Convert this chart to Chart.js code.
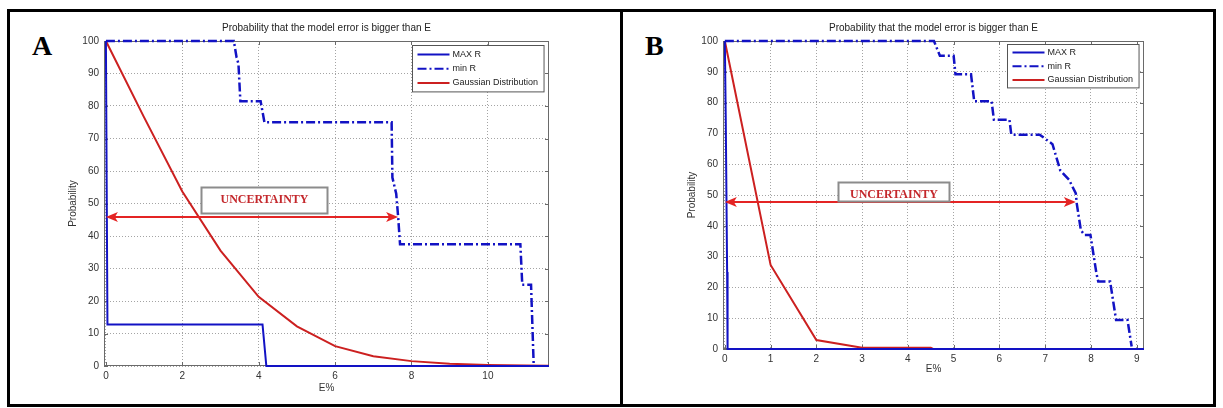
<!DOCTYPE html>
<html>
<head>
<meta charset="utf-8">
<title>Probability that the model error is bigger than E</title>
<script src="https://cdn.jsdelivr.net/npm/chart.js@4.4.1/dist/chart.umd.min.js"></script>
<style>
  body { margin: 0; background: #fff; }
  #frame { position: absolute; left: 7px; top: 9px; width: 1209px; height: 398px; box-sizing: border-box; border: 3px solid #000; }
  #divider { position: absolute; left: 620px; top: 9px; width: 3px; height: 398px; background: #000; }
  .letter { position: absolute; top: 32px; font: bold 28px/28px "Liberation Serif", "Times New Roman", serif; color: #000; }
  canvas { position: absolute; }
</style>
</head>
<body>
<div id="frame"></div>
<div id="divider"></div>
<div class="letter" style="left:32px">A</div>
<div class="letter" style="left:645px">B</div>
<canvas id="chartA" width="600" height="392" style="left:12px; top:12px; width:600px; height:392px"></canvas>
<canvas id="chartB" width="586" height="392" style="left:626px; top:12px; width:586px; height:392px"></canvas>

<script>
// ---- data ----
const seriesNames = ['MAX R', 'min R', 'Gaussian Distribution'];

// panel A  (E%, probability)
const maxRA = [[0, 100], [0.04, 12.8], [4.1, 12.8], [4.2, 0], [11.6, 0]];
const minRA = [[0, 100], [3.35, 100], [3.42, 95], [3.47, 93], [3.52, 81.5], [4.05, 81.5], [4.15, 75],
               [7.48, 75], [7.5, 58], [7.6, 53], [7.65, 46], [7.7, 37.5], [10.85, 37.5], [10.9, 25],
               [11.13, 25], [11.2, 0]];
const gaussA = [[0, 100], [1, 76.5], [2, 53.7], [3, 35.5], [4, 21.3], [5, 12.2], [6, 6.1], [7, 3],
                [8, 1.5], [9, 0.7], [10, 0.3], [11, 0.15], [11.6, 0.1]];
const xTicksA = [0, 2, 4, 6, 8, 10];
const arrowSpanA = [0, 7.65];
const arrowLevelA = 46;

// panel B
const maxRB = [[0, 100], [0.02, 75], [0.05, 25], [0.06, 0], [9.16, 0]];
const minRB = [[0, 100], [4.57, 100], [4.7, 95.2], [5.0, 95.2], [5.04, 89.2], [5.38, 89.2], [5.45, 80.4],
               [5.83, 80.4], [5.88, 74.4], [6.22, 74.4], [6.26, 69.6], [6.88, 69.6], [7.16, 66.5],
               [7.33, 58], [7.52, 55], [7.67, 50.5], [7.69, 47.3], [7.78, 38.6], [7.86, 37], [7.99, 37],
               [8.12, 24.6], [8.16, 21.9], [8.42, 21.9], [8.55, 9.4], [8.8, 9.4], [8.89, 0.8]];
const gaussB = [[0, 100], [1, 27.3], [2, 2.9], [3, 0.4], [4.5, 0.4], [4.55, 0], [9.16, 0]];
const xTicksB = [0, 1, 2, 3, 4, 5, 6, 7, 8, 9];
const arrowSpanB = [0, 7.67];
const arrowLevelB = 47.7;

const yTicks = [0, 10, 20, 30, 40, 50, 60, 70, 80, 90, 100];

// ---- styles ----
const BLUE = '#1212c4';
const RED = '#cc2020';
const ARROW_RED = '#e42424';
const SANS = 'Arial, "Liberation Sans", Helvetica, sans-serif';
const SERIF = '"Liberation Serif", "Times New Roman", serif';

Chart.defaults.font.family = SANS;
Chart.defaults.font.size = 10;
Chart.defaults.color = '#333';

const toXY = pts => pts.map(p => ({ x: p[0], y: p[1] }));

// MATLAB style box with inward ticks, under the lines
const matlabBox = {
    id: 'matlabBox',
    beforeDatasetsDraw(chart) {
        const { ctx, chartArea: a, scales: { x, y } } = chart;
        ctx.save();
        ctx.strokeStyle = '#6a6a6a';
        ctx.lineWidth = 1;
        ctx.strokeRect(a.left + 0.5, a.top + 0.5, a.width - 1, a.height - 1);
        ctx.beginPath();
        x.ticks.forEach(t => {
            const px = Math.round(x.getPixelForValue(t.value)) + 0.5;
            ctx.moveTo(px, a.bottom); ctx.lineTo(px, a.bottom - 4);
            ctx.moveTo(px, a.top); ctx.lineTo(px, a.top + 4);
        });
        y.ticks.forEach(t => {
            const py = Math.round(y.getPixelForValue(t.value)) + 0.5;
            ctx.moveTo(a.left, py); ctx.lineTo(a.left + 4, py);
            ctx.moveTo(a.right, py); ctx.lineTo(a.right - 4, py);
        });
        ctx.stroke();
        ctx.restore();
    }
};

// legend box inside the plot, top right corner
const insideLegend = {
    id: 'insideLegend',
    afterDatasetsDraw(chart, args, opts) {
        const { ctx, chartArea: a } = chart;
        const items = chart.data.datasets;
        ctx.save();
        ctx.font = '9px ' + SANS;
        const textW = Math.max(...items.map(d => ctx.measureText(d.label).width));
        const w = 5 + 32 + 3 + textW + 6;
        const h = opts.first * 2 + opts.rowH * (items.length - 1);
        const x0 = Math.round(a.right - opts.right - w) + 0.5;
        const y0 = Math.round(a.top + opts.top) + 0.5;
        ctx.fillStyle = '#fff';
        ctx.fillRect(x0, y0, w, h);
        ctx.strokeStyle = '#555';
        ctx.lineWidth = 1;
        ctx.strokeRect(x0, y0, w, h);
        items.forEach((d, i) => {
            const cy = y0 + opts.first + i * opts.rowH;
            ctx.strokeStyle = d.borderColor;
            ctx.lineWidth = 2;
            ctx.setLineDash(d.borderDash || []);
            ctx.beginPath();
            ctx.moveTo(x0 + 5, cy);
            ctx.lineTo(x0 + 37, cy);
            ctx.stroke();
            ctx.setLineDash([]);
            ctx.fillStyle = '#222';
            ctx.textBaseline = 'middle';
            ctx.fillText(d.label, x0 + 40, cy);
        });
        ctx.restore();
    }
};

// the UNCERTAINTY arrow and its label
const uncertainty = {
    id: 'uncertainty',
    afterDatasetsDraw(chart, args, opts) {
        const { ctx, scales: { x, y } } = chart;
        const xa = x.getPixelForValue(opts.span[0]);
        const xb = x.getPixelForValue(opts.span[1]);
        const ya = Math.round(y.getPixelForValue(opts.level));
        ctx.save();
        ctx.strokeStyle = ARROW_RED;
        ctx.fillStyle = ARROW_RED;
        ctx.lineWidth = 2;
        ctx.beginPath();
        ctx.moveTo(xa + 6, ya);
        ctx.lineTo(xb - 6, ya);
        ctx.stroke();
        [[xa, 1], [xb, -1]].forEach(([tip, dir]) => {
            ctx.beginPath();
            ctx.moveTo(tip, ya);
            ctx.lineTo(tip + dir * 12, ya - 5);
            ctx.lineTo(tip + dir * 9, ya);
            ctx.lineTo(tip + dir * 12, ya + 5);
            ctx.closePath();
            ctx.fill();
        });
        // label box
        const bx = Math.round(opts.boxX) + 0.5, by = Math.round(ya + opts.boxDy) + 0.5;
        ctx.fillStyle = '#fff';
        ctx.fillRect(bx, by, opts.boxW, opts.boxH);
        ctx.strokeStyle = '#8c8c8c';
        ctx.lineWidth = 2;
        ctx.strokeRect(bx, by, opts.boxW, opts.boxH);
        ctx.fillStyle = '#c4282c';
        ctx.font = 'bold 12px ' + SERIF;
        ctx.textAlign = 'center';
        ctx.textBaseline = 'alphabetic';
        ctx.fillText('UNCERTAINTY', bx + opts.boxW / 2, by + 15);
        ctx.restore();
    }
};

function makePanel(id, p) {
    const datasets = [
        { label: seriesNames[0], data: toXY(p.maxR), borderColor: BLUE, borderWidth: 2 },
        { label: seriesNames[1], data: toXY(p.minR), borderColor: BLUE, borderWidth: 2.5, borderDash: [9, 3, 2, 3] },
        { label: seriesNames[2], data: toXY(p.gauss), borderColor: RED, borderWidth: 2 }
    ];
    datasets.forEach(d => { d.pointRadius = 0; d.tension = 0; d.fill = false; d.clip = false; });

    return new Chart(document.getElementById(id), {
        type: 'line',
        data: { datasets },
        options: {
            responsive: false,
            animation: false,
            events: [],
            layout: { padding: { left: 0, right: p.padRight, top: 0, bottom: 0 } },
            scales: {
                x: {
                    type: 'linear',
                    min: p.xMin,
                    max: p.xMax,
                    afterBuildTicks: s => { s.ticks = p.xTicks.map(v => ({ value: v })); },
                    afterFit: s => { s.height = p.xAxisH; },
                    ticks: { padding: 4, autoSkip: false, maxRotation: 0, color: '#333' },
                    grid: { color: '#a4a4a4', drawTicks: false },
                    border: { display: false, dash: [1, 2] },
                    title: { display: true, text: 'E%', color: '#333', padding: { top: 0, bottom: p.xTitlePad } }
                },
                y: {
                    min: 0,
                    max: 100,
                    afterBuildTicks: s => { s.ticks = yTicks.map(v => ({ value: v })); },
                    afterFit: s => { s.width = p.yAxisW; },
                    ticks: { padding: 5, color: '#333' },
                    grid: { color: '#a4a4a4', drawTicks: false },
                    border: { display: false, dash: [1, 2] },
                    title: { display: true, text: 'Probability', color: '#333', padding: { top: p.yTitlePad, bottom: 0 } }
                }
            },
            plugins: {
                legend: { display: false },
                tooltip: { enabled: false },
                title: {
                    display: true,
                    text: 'Probability that the model error is bigger than E',
                    fullSize: false,
                    color: '#222',
                    font: { size: 10, weight: 'normal' },
                    padding: { top: 10, bottom: 7 }
                },
                insideLegend: p.legend,
                uncertainty: p.arrow
            }
        },
        plugins: [matlabBox, insideLegend, uncertainty]
    });
}

makePanel('chartA', {
    maxR: maxRA, minR: minRA, gauss: gaussA, xTicks: xTicksA,
    xMin: -0.05, xMax: 11.6, padRight: 63, xAxisH: 38, yAxisW: 92, xTitlePad: 10, yTitlePad: 55,
    legend: { right: 5, top: 4, first: 9, rowH: 14.2 },
    arrow: { span: arrowSpanA, level: arrowLevelA, boxX: 189, boxDy: -30, boxW: 126, boxH: 26 }
});

makePanel('chartB', {
    maxR: maxRB, minR: minRB, gauss: gaussB, xTicks: xTicksB,
    xMin: -0.04, xMax: 9.16, padRight: 68, xAxisH: 55, yAxisW: 97, xTitlePad: 28.7, yTitlePad: 60.5,
    legend: { right: 5, top: 3, first: 8, rowH: 13.7 },
    arrow: { span: arrowSpanB, level: arrowLevelB, boxX: 212, boxDy: -20, boxW: 111, boxH: 19 }
});
</script>
</body>
</html>
